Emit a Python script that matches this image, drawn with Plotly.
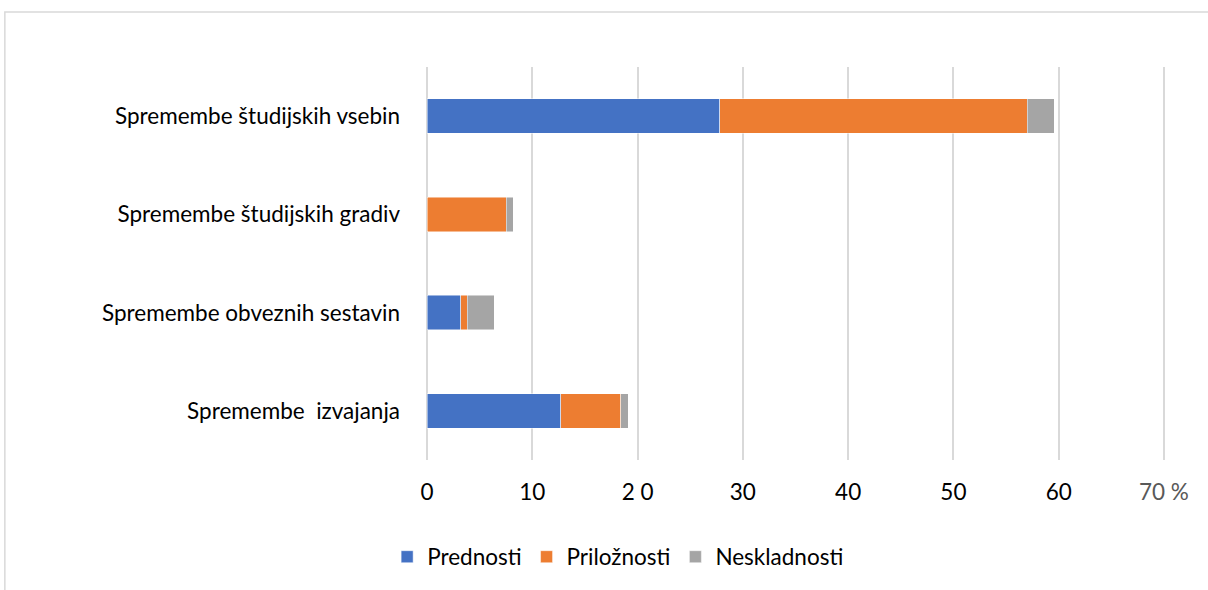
import plotly.graph_objects as go

categories = ["Spremembe študijskih vsebin", "Spremembe študijskih gradiv",
              "Spremembe obveznih sestavin", "Spremembe  izvajanja"]
prednosti = [27.8, 0, 3.2, 12.7]
priloznosti = [29.2, 7.5, 0.6, 5.7]
neskladnosti = [2.6, 0.7, 2.6, 0.7]

tick_vals = [0, 10, 20, 30, 40, 50, 60, 70]
tick_text = ["0", "10", "2 0", "30", "40", "50", "60",
             "<span style='color:#595959'>70 %</span>"]

series = [("Prednosti", prednosti, "#4472C4"),
          ("Priložnosti", priloznosti, "#ED7D31"),
          ("Neskladnosti", neskladnosti, "#A5A5A5")]

fig = go.Figure()
for name, vals, col in series:
    fig.add_trace(go.Bar(y=categories, x=vals, name=name, orientation="h",
                         marker=dict(color=col, line=dict(color="rgba(255,255,255,0.6)", width=0.8))))

font = "Lato, 'Noto Sans', sans-serif"
fig.update_layout(
    barmode="stack", bargap=0.65,
    width=1208, height=590,
    margin=dict(l=426, r=43, t=67, b=130),
    plot_bgcolor="white", paper_bgcolor="white",
    font=dict(family=font, size=22.5, color="#000000"),
    legend=dict(orientation="h", x=0.26, xanchor="center", y=-0.247, yanchor="middle",
                traceorder="normal", font=dict(size=22.5), itemwidth=30),
    showlegend=True,
)
fig.update_xaxes(range=[-0.1, 70.1], tickvals=tick_vals, ticktext=tick_text,
                 showgrid=True, gridcolor="#d9d9d9", gridwidth=2,
                 zeroline=True, zerolinecolor="#d9d9d9", zerolinewidth=2,
                 showline=False, ticks="", ticklabelstandoff=16,
                 tickfont=dict(size=22.5))
fig.update_yaxes(autorange="reversed", showgrid=False, showline=False, ticks="",
                 ticklabelstandoff=25, tickfont=dict(size=22.5))

# chart-area border (cropped at right and bottom)
fig.add_shape(type="rect", xref="paper", yref="paper",
              x0=-0.5699, x1=1.1, y0=-0.4, y1=1.14,
              line=dict(color="#d9d9d9", width=1.5), layer="below")

fig.write_html("out.html", config={"displayModeBar": False},
               post_script="document.body.style.margin='0';")
